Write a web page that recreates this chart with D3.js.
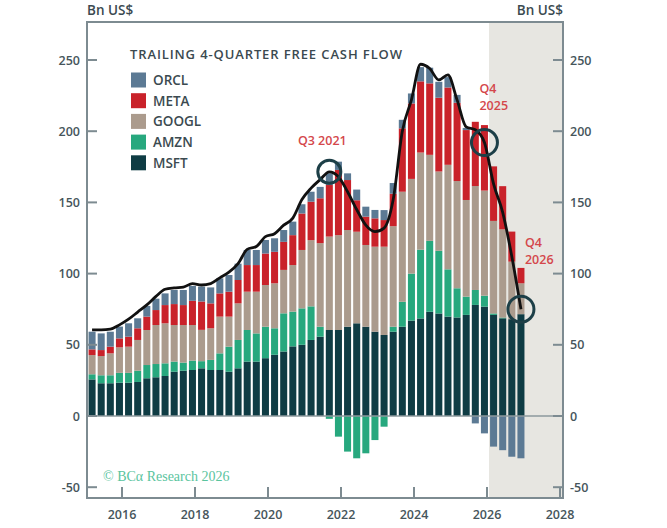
<!DOCTYPE html>
<html lang="en">
<head>
<meta charset="UTF-8">
<title>Trailing 4-Quarter Free Cash Flow</title>
<script src="https://d3js.org/d3.v7.min.js"></script>
<style>
  body { margin: 0; background: #fff; }
  text { font-family: "Open Sans", "DejaVu Sans", sans-serif; }
  .tick-label { font-size: 12.5px; font-weight: 600; fill: #46555b; }
  .unit-label { font-size: 13.5px; font-weight: 600; fill: #3b4a50; }
  .legend-title { font-size: 13px; font-weight: 600; fill: #3b4a50; }
  .legend-label { font-size: 13.5px; font-weight: 600; fill: #3b4a50; }
  .note { font-size: 12.5px; font-weight: 600; fill: #d4474b; }
  .copyright { font-family: "Liberation Serif", "DejaVu Serif", serif; font-size: 14px; fill: #5ac49e; }
</style>
</head>
<body>
<div id="chart"></div>
<script>
// quarters (trailing 4Q window ending in that quarter)
const quarters = [
  "2015 Q1", "2015 Q2", "2015 Q3", "2015 Q4", "2016 Q1", "2016 Q2", "2016 Q3", "2016 Q4",
  "2017 Q1", "2017 Q2", "2017 Q3", "2017 Q4", "2018 Q1", "2018 Q2", "2018 Q3", "2018 Q4",
  "2019 Q1", "2019 Q2", "2019 Q3", "2019 Q4", "2020 Q1", "2020 Q2", "2020 Q3", "2020 Q4",
  "2021 Q1", "2021 Q2", "2021 Q3", "2021 Q4", "2022 Q1", "2022 Q2", "2022 Q3", "2022 Q4",
  "2023 Q1", "2023 Q2", "2023 Q3", "2023 Q4", "2024 Q1", "2024 Q2", "2024 Q3", "2024 Q4",
  "2025 Q1", "2025 Q2", "2025 Q3", "2025 Q4", "2026 Q1", "2026 Q2", "2026 Q3", "2026 Q4"
];

// Bn US$
const msft = [25.7, 23.0, 23.0, 23.4, 23.4, 23.9, 26.5, 27.2, 28.1, 31.1, 31.8, 32.3,
  33.5, 32.3, 32.3, 31.1, 33.5, 38.2, 38.2, 40.6, 43.0, 45.3, 48.9, 50.0,
  53.4, 55.7, 60.4, 60.4, 62.7, 65.1, 62.7, 59.2, 56.9, 59.2, 62.7, 67.0,
  68.5, 73.2, 72.0, 69.8, 69.2, 71.0, 78.0, 76.8, 71.0, 68.6, 68.0, 71.5];
const amzn = [3.6, 5.6, 5.6, 6.9, 6.9, 7.9, 9.3, 9.3, 8.9, 7.1, 5.7, 6.6,
  5.0, 7.1, 11.7, 17.6, 19.9, 22.2, 19.8, 22.1, 18.6, 26.8, 24.4, 25.6,
  23.6, 7.0, -2.0, -14.5, -25.0, -29.7, -26.2, -16.9, -7.5, 3.5, 17.5, 33.0,
  48.3, 49.8, 44.0, 33.2, 20.5, 12.8, 10.5, 7.7, 1.0, 0.5, 0, 0];
const googl = [13.5, 13.5, 15.4, 17.9, 18.4, 21.6, 24.6, 27.4, 28.1, 25.7, 26.4, 25.0,
  22.0, 22.2, 25.8, 21.1, 25.7, 26.9, 29.3, 29.3, 31.6, 30.5, 32.7, 41.0,
  46.5, 58.7, 65.6, 66.6, 67.9, 64.3, 57.4, 59.7, 62.0, 70.6, 77.3, 66.5,
  68.2, 60.4, 55.7, 73.4, 75.3, 67.9, 73.0, 73.8, 65.0, 62.0, 40.4, 21.7];
const meta = [4.0, 4.2, 4.7, 6.3, 7.0, 8.2, 9.4, 10.5, 12.8, 14.7, 14.0, 17.0,
  19.9, 17.5, 16.3, 17.5, 16.4, 18.7, 18.7, 22.1, 22.1, 19.7, 21.0, 25.6,
  27.0, 31.5, 36.2, 45.8, 35.1, 22.1, 19.9, 19.9, 18.7, 22.8, 44.5, 53.0,
  50.0, 50.2, 51.8, 54.3, 55.0, 49.1, 45.1, 46.0, 38.3, 30.3, 21.1, 10.8];
const orcl = [12.4, 11.7, 10.5, 8.3, 9.4, 7.0, 7.5, 8.0, 8.2, 9.9, 10.6, 10.4,
  10.5, 11.2, 10.6, 11.7, 11.5, 10.6, 10.6, 9.5, 9.5, 8.3, 9.5, 6.5,
  7.0, 8.0, 8.3, 5.8, 4.7, 7.5, 7.0, 5.9, 7.0, 7.5, 6.0, 7.0,
  10.0, 11.0, 11.2, 7.3, 5.5, 1.5, -5.2, -12.2, -21.5, -24.0, -28.6, -29.7];
// total free cash flow (black line)
const total = [60.5, 60.5, 61, 64, 68, 73, 78, 84, 89, 90, 90.5, 93,
  92, 93, 97, 101, 107, 117, 119, 126, 128, 134, 139, 152,
  160, 166, 171.5, 168, 157.5, 145, 134, 129.5, 132, 152, 200, 222,
  247, 244, 236, 239.5, 222, 203, 201, 192, 163, 143, 112, 75];

const seriesNames = ["MSFT", "AMZN", "GOOGL", "META", "ORCL"];
const seriesColors = ["#0f3c44", "#27a87e", "#ab9b8d", "#c9222a", "#5c7a94"];
const legendOrder = ["ORCL", "META", "GOOGL", "AMZN", "MSFT"];

const yTicks = [-50, 0, 50, 100, 150, 200, 250];
const xTicks = [2016, 2018, 2020, 2022, 2024, 2026, 2028];
const notes = [
  { q: "2021 Q3", lines: ["Q3 2021"] },
  { q: "2025 Q4", lines: ["Q4", "2025"] },
  { q: "2026 Q4", lines: ["Q4", "2026"] }
];
const forecastStart = "2026 Q1";

const W = 667, H = 528;
const frame = { left: 87, right: 563, top: 22, bottom: 498 };

const svg = d3.select("#chart").append("svg")
  .attr("width", W)
  .attr("height", H);

const x = d3.scaleLinear().domain([2016, 2028]).range([122, 560]);
const y = d3.scaleLinear().domain([0, 250]).range([416, 60]);

// quarter label -> decimal year of bar centre
const qPos = q => {
  const [yr, qq] = q.split(" Q");
  return +yr + (+qq) * 0.25 - 0.07;
};
const step = x(2016.25) - x(2016);
const barW = step * 0.77;

// rows for d3.stack
const rows = quarters.map((q, i) => ({
  q: q, MSFT: msft[i], AMZN: amzn[i], GOOGL: googl[i], META: meta[i], ORCL: orcl[i]
}));
const stacked = d3.stack()
  .keys(seriesNames)
  .offset(d3.stackOffsetDiverging)(rows);
const color = d3.scaleOrdinal().domain(seriesNames).range(seriesColors);

// forecast shading
const shadeX = (x(qPos(forecastStart)) + x(qPos(forecastStart)) - step) / 2;
svg.append("rect")
  .attr("x", shadeX)
  .attr("y", frame.top)
  .attr("width", frame.right - shadeX)
  .attr("height", frame.bottom - frame.top)
  .attr("fill", "#e7e6e1");

// bars
svg.append("g")
  .selectAll("g")
  .data(stacked)
  .join("g")
  .attr("fill", d => color(d.key))
  .selectAll("rect")
  .data(d => d)
  .join("rect")
  .attr("x", d => x(qPos(d.data.q)) - barW / 2)
  .attr("y", d => y(d[1]))
  .attr("width", barW)
  .attr("height", d => Math.max(0, y(d[0]) - y(d[1])));

// zero line
svg.append("line")
  .attr("x1", frame.left).attr("x2", frame.right)
  .attr("y1", y(0)).attr("y2", y(0))
  .attr("stroke", "#8c989d")
  .attr("stroke-width", 1.5);

// total line
const line = d3.line()
  .x((d, i) => x(qPos(quarters[i])))
  .y(d => y(d))
  .curve(d3.curveMonotoneX);
svg.append("path")
  .datum(total)
  .attr("d", line)
  .attr("fill", "none")
  .attr("stroke", "#111")
  .attr("stroke-width", 2.8)
  .attr("stroke-linejoin", "round");

// circles + notes
notes.forEach((n, k) => {
  const i = quarters.indexOf(n.q);
  const cx = x(qPos(n.q)), cy = y(total[i]);
  svg.append("circle")
    .attr("cx", cx).attr("cy", cy)
    .attr("r", k === 0 ? 11.5 : 13)
    .attr("fill", "none")
    .attr("stroke", "#1d3f47")
    .attr("stroke-width", 3);
  const t = svg.append("text").attr("class", "note");
  if (k === 0) {
    t.attr("x", cx - 7).attr("y", cy - 27).attr("text-anchor", "middle").text(n.lines[0]);
  } else {
    const dx = k === 1 ? -5 : 4;
    const dy = k === 1 ? -50 : -62;
    t.attr("x", cx + dx).attr("y", cy + dy);
    n.lines.forEach((s, j) => {
      t.append("tspan").attr("x", cx + dx).attr("dy", j === 0 ? 0 : 17).text(s);
    });
  }
});

// frame
svg.append("rect")
  .attr("x", frame.left).attr("y", frame.top)
  .attr("width", frame.right - frame.left)
  .attr("height", frame.bottom - frame.top)
  .attr("fill", "none")
  .attr("stroke", "#7d8b91")
  .attr("stroke-width", 2);

// y ticks both sides
const yt = svg.append("g");
yTicks.forEach(v => {
  yt.append("line").attr("x1", frame.left).attr("x2", frame.left + 10)
    .attr("y1", y(v)).attr("y2", y(v)).attr("stroke", "#7d8b91").attr("stroke-width", 2);
  yt.append("line").attr("x1", frame.right - 10).attr("x2", frame.right)
    .attr("y1", y(v)).attr("y2", y(v)).attr("stroke", "#7d8b91").attr("stroke-width", 2);
  yt.append("text").attr("class", "tick-label")
    .attr("x", 80).attr("y", y(v) + 4.5).attr("text-anchor", "end").text(v);
  yt.append("text").attr("class", "tick-label")
    .attr("x", 570).attr("y", y(v) + 4.5).text(v);
});

// x ticks
const xt = svg.append("g");
xTicks.forEach(v => {
  xt.append("line").attr("x1", x(v)).attr("x2", x(v))
    .attr("y1", frame.bottom).attr("y2", frame.bottom - 11)
    .attr("stroke", "#7d8b91").attr("stroke-width", 2);
  xt.append("text").attr("class", "tick-label")
    .attr("x", x(v)).attr("y", frame.bottom + 21)
    .attr("text-anchor", "middle").text(v);
});

// unit labels
svg.append("text").attr("class", "unit-label").attr("x", frame.left).attr("y", 15).text("Bn US$");
svg.append("text").attr("class", "unit-label").attr("x", frame.right).attr("y", 15)
  .attr("text-anchor", "end").text("Bn US$");

// legend
const lg = svg.append("g").attr("transform", "translate(130,0)");
lg.append("text").attr("class", "legend-title").attr("x", 0).attr("y", 59)
  .attr("textLength", 272).attr("lengthAdjust", "spacing")
  .text("TRAILING 4-QUARTER FREE CASH FLOW");
legendOrder.forEach((name, j) => {
  const cy = 80 + j * 20.7;
  lg.append("rect").attr("x", 1).attr("y", cy - 7.5).attr("width", 15).attr("height", 15)
    .attr("fill", color(name));
  lg.append("text").attr("class", "legend-label").attr("x", 23).attr("y", cy + 5).text(name);
});

svg.append("text").attr("class", "copyright").attr("x", 103).attr("y", 481)
  .text("\u00a9 BC\u03b1 Research 2026");
</script>
</body>
</html>
